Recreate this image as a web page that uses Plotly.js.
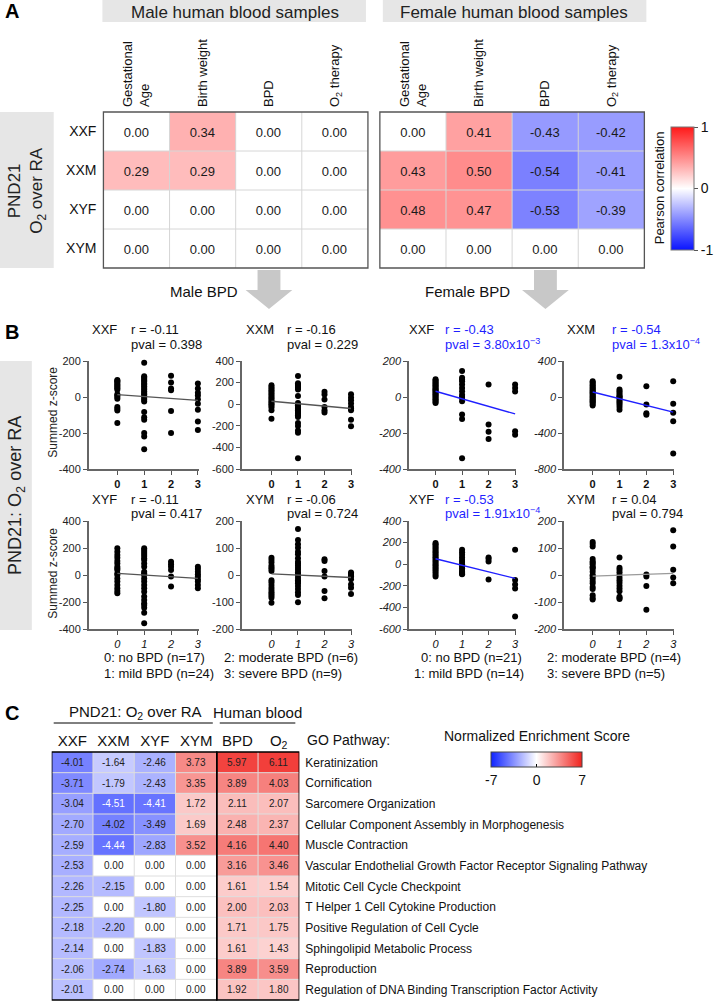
<!DOCTYPE html>
<html><head><meta charset="utf-8">
<script src="https://cdn.plot.ly/plotly-3.0.1.min.js"></script>
<style>html,body{margin:0;padding:0;background:#fff}#chart{width:715px;height:1001px}</style>
</head><body><div id="chart"></div>
<script>
// ---------------- DATA ----------------
// Panel A
const corrRows = ['XXF','XXM','XYF','XYM'];
const corrCols = ['Gestational<br>Age','Birth weight','BPD','O<sub>2</sub> therapy'];
const maleCorr = [[0.00,0.34,0.00,0.00],[0.29,0.29,0.00,0.00],[0.00,0.00,0.00,0.00],[0.00,0.00,0.00,0.00]];
const femaleCorr = [[0.00,0.41,-0.43,-0.42],[0.43,0.50,-0.54,-0.41],[0.48,0.47,-0.53,-0.39],[0.00,0.00,0.00,0.00]];
const corrTicks = [-1,0,1];

// Panel B: summed z-score per BPD grade (0,1,2,3)
const bpdLevels = [0,1,2,3];
const maleXXF = [
  [95,90,85,78,70,62,55,48,40,15,8,0,-10,-55,-65,-75,-145],
  [190,115,108,100,92,85,75,68,60,50,42,32,22,15,5,-5,-15,-25,-84,-112,-127,-200,-219,-290],
  [118,80,47,37,-78,-200],
  [75,47,24,9,-13,-37,-71,-136,-183]];
const maleXXM = [
  [175,160,145,130,115,100,85,70,55,40,25,10,0,-15,-30,-55,-135],
  [261,193,180,171,160,152,137,75,12,-9,-10,-25,-40,-56,-60,-72,-87,-103,-118,-174,-202,-243,-264,-500],
  [115,90,44,-25,-56,-78],
  [93,62,37,6,-25,-40,-56,-143,-205]];
const femaleXXF = [
  [99,92,85,78,72,65,58,52,45,40,35,28,22,15,8,2,-5,-12,-20,-28,-34],
  [144,107,97,88,69,50,32,13,0,-6,-24,-97,-122,-340],
  [69,-153,-193,-234],
  [69,50,30,-190,-210]];
const femaleXXM = [
  [176,160,145,130,115,100,88,75,62,50,38,25,12,0,-12,-25,-38,-50,-62,-78,-94],
  [224,82,64,45,26,7,0,-11,-30,-49,-67,-86,-112,-142],
  [120,-82,-180,-198],
  [176,-75,-176,-269,-628]];
const maleXYF = [
  [198,173,148,128,104,86,62,49,37,12,0,-25,-49,-74,-99,-119,-136],
  [198,185,170,155,140,125,111,86,62,25,12,0,-25,-49,-74,-99,-124,-160,-185,-210,-222,-242,-280,-358],
  [99,79,62,37,-12,-86],
  [62,44,25,5,-12,-32,-49,-74,-99]];
const maleXYM = [
  [64,56,46,35,28,22,15,-19,-27,-37,-47,-56,-64,-70,-77,-84,-103],
  [170,130,114,101,86,77,62,49,43,35,27,19,10,5,0,-10,-19,-25,-31,-41,-52,-64,-74,-101],
  [58,52,15,-6,-59,-86],
  [9,5,0,-3,-6,-16,-35,-47,-70]];
const femaleXYF = [
  [197,185,170,155,140,125,110,95,80,65,50,35,20,5,-10,-25,-40,-55,-75,-95,-115],
  [134,110,88,62,40,20,0,-22,-38,-53,-69,-80,-88,-94],
  [62,47,25,-141],
  [134,-147,-188,-225,-484]];
const femaleXYM = [
  [122,115,106,59,50,45,40,31,28,22,12,0,-4,-12,-22,-31,-44,-52,-75,-85,-91],
  [65,27,19,10,0,-10,-19,-29,-40,-50,-60,-81,-85,-89],
  [2,-6,-41,-129],
  [166,106,19,-9,-31]];
// fitted line values at BPD 0 and BPD 3
const fitMaleXXF=[13,-19], fitMaleXXM=[28,-40], fitFemaleXXF=[32,-94], fitFemaleXXM=[56,-168];
const fitMaleXYF=[12,-25], fitMaleXYM=[4,-9], fitFemaleXYF=[50,-131], fitFemaleXYM=[-4,6];
const groupLabels = ['XXF','XXM','XXF','XXM','XYF','XYM','XYF','XYM'];
const rTexts = ['r = -0.11','r = -0.16','r = -0.43','r = -0.54','r = -0.11','r = -0.06','r = -0.53','r = 0.04'];
const pTexts = ['pval = 0.398','pval = 0.229','pval = 3.80x10<sup>−3</sup>','pval = 1.3x10<sup>−4</sup>',
                'pval = 0.417','pval = 0.724','pval = 1.91x10<sup>−4</sup>','pval = 0.794'];
const yTickSets = [[-400,-200,0,200],[-600,-400,-200,0,200,400],[-400,-200,0,200],[-800,-400,0,400],
                   [-400,-200,0,200,400],[-200,-100,0,100,200],[-600,-400,-200,0,200,400],[-200,-100,0,100,200]];

// Panel C
const goCols = ['XXF','XXM','XYF','XYM','BPD','O<sub>2</sub>'];
const goPathways = ['Keratinization','Cornification','Sarcomere Organization','Cellular Component Assembly in Morphogenesis',
  'Muscle Contraction','Vascular Endothelial Growth Factor Receptor Signaling Pathway','Mitotic Cell Cycle Checkpoint',
  'T Helper 1 Cell Cytokine Production','Positive Regulation of Cell Cycle','Sphingolipid Metabolic Process',
  'Reproduction','Regulation of DNA Binding Transcription Factor Activity'];
const nes = [
  [-4.01,-1.64,-2.46,3.73,5.97,6.11],
  [-3.71,-1.79,-2.43,3.35,3.89,4.03],
  [-3.04,-4.51,-4.41,1.72,2.11,2.07],
  [-2.70,-4.02,-3.49,1.69,2.48,2.37],
  [-2.59,-4.44,-2.83,3.52,4.16,4.40],
  [-2.53,0.00,0.00,0.00,3.16,3.46],
  [-2.26,-2.15,0.00,0.00,1.61,1.54],
  [-2.25,0.00,-1.80,0.00,2.00,2.03],
  [-2.18,-2.20,0.00,0.00,1.71,1.75],
  [-2.14,0.00,-1.83,0.00,1.61,1.43],
  [-2.06,-2.74,-1.63,0.00,3.89,3.59],
  [-2.01,0.00,0.00,0.00,1.92,1.80]];
const nesTicks = [-7,0,7];

// ---------------- LAYOUT HELPERS ----------------
const W=715, H=1001;
const FONT='Liberation Sans, Arial, Helvetica, sans-serif';
const px=x=>x/W, py=y=>1-y/H;
const dX=(a,b)=>[px(a),px(b)], dY=(t,b)=>[py(b),py(t)];
const fmt=v=>v.toFixed(2);
const corrScale=[[0,'rgb(10,20,255)'],[0.5,'rgb(255,255,255)'],[1,'rgb(255,25,25)']];
const nesScale=[[0,'rgb(15,35,255)'],[0.5,'rgb(255,255,255)'],[1,'rgb(240,35,30)']];

const traces=[], shapes=[], annotations=[];
const layout={width:W,height:H,margin:{l:0,r:0,t:0,b:0},paper_bgcolor:'#fff',plot_bgcolor:'rgba(0,0,0,0)',
  showlegend:false,font:{family:FONT,color:'#111'},shapes,annotations};

function ann(o){annotations.push(Object.assign({xref:'paper',yref:'paper',xanchor:'center',yanchor:'middle',showarrow:false,
  font:{family:FONT,size:13,color:'#111'}},o));}
function rectPx(x0,y0,x1,y1,fill){shapes.push({type:'rect',xref:'paper',yref:'paper',x0:px(x0),x1:px(x1),y0:py(y1),y1:py(y0),fillcolor:fill,line:{width:0},layer:'below'});}

// ---------------- PANEL A ----------------
const idx=[0,1,2,3];
const heatA=[{z:maleCorr,xa:'x',ya:'y',dom:[104,370]},{z:femaleCorr,xa:'x2',ya:'y2',dom:[382,648]}];
heatA.forEach((h,k)=>{
  const t={type:'heatmap',x:idx,y:idx,z:h.z,text:h.z.map(r=>r.map(fmt)),texttemplate:'%{text}',
    textfont:{family:FONT,size:13,color:'#1a1a1a'},colorscale:corrScale,zmin:-1,zmax:1,xaxis:h.xa,yaxis:h.ya,
    hoverinfo:'skip',showscale:k===1};
  if(k===1){t.colorbar={x:px(675),xanchor:'left',y:py(127),yanchor:'top',len:123,lenmode:'pixels',thickness:23,
    xpad:0,ypad:0,outlinewidth:1,outlinecolor:'#777',tickvals:corrTicks,ticktext:corrTicks.map(String),
    ticks:'outside',ticklen:4,tickcolor:'#555',tickfont:{family:FONT,size:14,color:'#111'}};}
  traces.push(t);
  const xn=k===0?'xaxis':'xaxis2', yn=k===0?'yaxis':'yaxis2';
  layout[xn]={domain:dX(h.dom[0],h.dom[1]),anchor:h.ya,range:[-0.5,3.5],side:'top',tickvals:idx,ticktext:corrCols,
    tickangle:-90,ticks:'',tickfont:{family:FONT,size:13,color:'#111'},showgrid:false,zeroline:false,ticklabelstandoff:4,fixedrange:true};
  layout[yn]={domain:dY(112,268),anchor:h.xa,range:[3.5,-0.5],tickvals:idx,ticktext:corrRows,ticks:'',
    showticklabels:k===0,tickfont:{family:FONT,size:14,color:'#111'},showgrid:false,zeroline:false,ticklabelstandoff:6,fixedrange:true};
  [0.5,1.5,2.5].forEach(v=>{
    shapes.push({type:'line',xref:h.xa,yref:h.ya+' domain',x0:v,x1:v,y0:0,y1:1,line:{color:'#d6d6d6',width:1}});
    shapes.push({type:'line',xref:h.xa+' domain',yref:h.ya,x0:0,x1:1,y0:v,y1:v,line:{color:'#d6d6d6',width:1}});
  });
  shapes.push({type:'rect',xref:h.xa+' domain',yref:h.ya+' domain',x0:0,x1:1,y0:0,y1:1,line:{color:'#555',width:1.3}});
});
rectPx(103,0,368,22,'#e6e6e6');
rectPx(385,0,650,22,'#e6e6e6');
rectPx(0,112,54,268,'#e6e6e6');
ann({x:px(236),y:py(12),text:'Male human blood samples',font:{family:FONT,size:17,color:'#222'}});
ann({x:px(517),y:py(12),text:'Female human blood samples',font:{family:FONT,size:17,color:'#222'}});
ann({x:px(27),y:py(190),text:'PND21<br>O<sub>2</sub> over RA',textangle:-90,font:{family:FONT,size:17,color:'#222'}});
ann({x:px(3),y:py(11),xanchor:'left',text:'<b>A</b>',font:{family:FONT,size:20,color:'#000'}});
ann({x:px(664),y:py(188),text:'Pearson correlation',textangle:-90,font:{family:FONT,size:13,color:'#111'}});
function arrowPath(cx){
  const pts=[[cx-11.5,270],[cx+11.5,270],[cx+11.5,290],[cx+23.5,290],[cx,309],[cx-23.5,290],[cx-11.5,290]];
  return 'M'+pts.map(p=>px(p[0])+','+py(p[1])).join(' L')+' Z';
}
[270.5,548.5].forEach(cx=>shapes.push({type:'path',xref:'paper',yref:'paper',path:arrowPath(cx),fillcolor:'#c8c8c8',line:{width:0}}));
ann({x:px(205),y:py(291),text:'Male BPD',font:{family:FONT,size:15,color:'#111'}});
ann({x:px(470),y:py(291),text:'Female BPD',font:{family:FONT,size:15,color:'#111'}});

// ---------------- PANEL B ----------------
const bData=[maleXXF,maleXXM,femaleXXF,femaleXXM,maleXYF,maleXYM,femaleXYF,femaleXYM];
const bFits=[fitMaleXXF,fitMaleXXM,fitFemaleXXF,fitFemaleXXM,fitMaleXYF,fitMaleXYM,fitFemaleXYF,fitFemaleXYM];
const colSpec=[{left:89,x0:118,x3:199,lab:105,rx:130},{left:243,x0:273,x3:353,lab:261,rx:287},
               {left:411,x0:438,x3:518,lab:424,rx:445},{left:567,x0:596,x3:677,lab:584,rx:613}];
const rowSpec=[{top:361,bottom:469,ty:330,pty:344},{top:521,bottom:629,ty:499,pty:513}];
const fitColors=['#555','#555','#1f1fff','#1f1fff','#555','#555','#1f1fff','#9a9a9a'];
const statColors=['#111','#111','#1f1fff','#1f1fff','#111','#111','#1f1fff','#111'];
bData.forEach((groups,i)=>{
  const c=colSpec[i%4], r=rowSpec[Math.floor(i/4)], n=i+3;
  const female=(i%4)>=2, bottom=i>=4;
  const xa='x'+n, ya='y'+n;
  const xs=[], ys=[];
  groups.forEach((vals,g)=>vals.forEach(v=>{xs.push(bpdLevels[g]);ys.push(v);}));
  traces.push({type:'scatter',mode:'markers',x:xs,y:ys,xaxis:xa,yaxis:ya,marker:{size:6,color:'#000'},cliponaxis:false,hoverinfo:'skip'});
  traces.push({type:'scatter',mode:'lines',x:[bpdLevels[0],bpdLevels[3]],y:bFits[i],xaxis:xa,yaxis:ya,line:{color:fitColors[i],width:1.4},hoverinfo:'skip'});
  const ppu=(c.x3-c.x0)/3, right=c.x3+1;
  const yt=yTickSets[i];
  layout['xaxis'+n]={domain:dX(c.left,right),anchor:ya,range:[-(c.x0-c.left)/ppu,3+(right-c.x3)/ppu],
    tickvals:bpdLevels,ticktext:bpdLevels.map(String),ticks:'outside',ticklen:4,tickcolor:'#555',showline:true,linecolor:'#666',linewidth:1.5,
    showgrid:false,zeroline:false,fixedrange:true,
    tickfont:{family:FONT,size:11,color:'#111',weight:bottom?'normal':'bold',style:bottom?'italic':'normal'}};
  layout['yaxis'+n]={domain:dY(r.top,r.bottom),anchor:xa,range:[yt[0],yt[yt.length-1]],tickvals:yt,ticktext:yt.map(String),
    ticks:'outside',ticklen:4,tickcolor:'#555',showline:true,linecolor:'#666',linewidth:1.5,showgrid:false,zeroline:false,fixedrange:true,
    tickfont:{family:FONT,size:11,color:'#222',style:female?'italic':'normal'}};
  ann({x:px(c.lab),y:py(r.ty),text:groupLabels[i],font:{family:FONT,size:13,color:'#111'}});
  ann({x:px(c.rx),y:py(r.ty),xanchor:'left',text:rTexts[i],font:{family:FONT,size:13,color:statColors[i]}});
  ann({x:px(c.rx),y:py(r.pty),xanchor:'left',text:pTexts[i],font:{family:FONT,size:13,color:statColors[i]}});
});
rectPx(0,361,32,630,'#e6e6e6');
ann({x:px(16),y:py(495),text:'PND21: O<sub>2</sub> over RA',textangle:-90,font:{family:FONT,size:18,color:'#222'}});
ann({x:px(3),y:py(332),xanchor:'left',text:'<b>B</b>',font:{family:FONT,size:20,color:'#000'}});
ann({x:px(53),y:py(412),text:'Summed z-score',textangle:-90,font:{family:FONT,size:12,color:'#222'}});
ann({x:px(53),y:py(573),text:'Summed z-score',textangle:-90,font:{family:FONT,size:12,color:'#222'}});
ann({x:px(103),y:py(657),xanchor:'left',text:'0: no BPD (n=17)',font:{family:FONT,size:13,color:'#111'}});
ann({x:px(103),y:py(673),xanchor:'left',text:'1: mild BPD (n=24)',font:{family:FONT,size:13,color:'#111'}});
ann({x:px(223),y:py(657),xanchor:'left',text:'2: moderate BPD (n=6)',font:{family:FONT,size:13,color:'#111'}});
ann({x:px(223),y:py(673),xanchor:'left',text:'3: severe BPD (n=9)',font:{family:FONT,size:13,color:'#111'}});
ann({x:px(474),y:py(657),text:'0: no BPD (n=21)',font:{family:FONT,size:13,color:'#111'}});
ann({x:px(472),y:py(673),text:'1: mild BPD (n=14)',font:{family:FONT,size:13,color:'#111'}});
ann({x:px(548),y:py(657),xanchor:'left',text:'2: moderate BPD (n=4)',font:{family:FONT,size:13,color:'#111'}});
ann({x:px(548),y:py(673),xanchor:'left',text:'3: severe BPD (n=5)',font:{family:FONT,size:13,color:'#111'}});

// ---------------- PANEL C ----------------
const cx=[0,1,2,3,4,5], cy=goPathways.map((_,i)=>i);
traces.push({type:'heatmap',x:cx,y:cy,z:nes,colorscale:nesScale,zmin:-7,zmax:7,xaxis:'x11',yaxis:'y11',hoverinfo:'skip',
  colorbar:{orientation:'h',x:px(494),xanchor:'left',y:py(752),yanchor:'top',len:91,lenmode:'pixels',thickness:15,xpad:0,ypad:0,
    outlinewidth:1,outlinecolor:'#444',tickvals:nesTicks,ticktext:nesTicks.map(String),ticks:'inside',ticklen:3,tickcolor:'#000',
    tickfont:{family:FONT,size:14,color:'#111'}}});
layout.xaxis11={domain:dX(52,301),anchor:'y11',range:[-0.5,5.5],side:'top',tickvals:cx,ticktext:goCols,ticks:'',
  tickfont:{family:FONT,size:15,color:'#111'},showgrid:false,zeroline:false,fixedrange:true,ticklabelstandoff:2};
layout.yaxis11={domain:dY(752,1000),anchor:'x11',range:[11.5,-0.5],side:'right',tickvals:cy,ticktext:goPathways,ticks:'',
  tickfont:{family:FONT,size:12,color:'#111'},showgrid:false,zeroline:false,fixedrange:true,ticklabelstandoff:5};
[0.5,1.5,2.5,4.5].forEach(v=>shapes.push({type:'line',xref:'x11',yref:'y11 domain',x0:v,x1:v,y0:0,y1:1,line:{color:'#dedede',width:1}}));
cy.slice(0,-1).forEach(v=>shapes.push({type:'line',xref:'x11 domain',yref:'y11',x0:0,x1:1,y0:v+0.5,y1:v+0.5,line:{color:'#dedede',width:1}}));
shapes.push({type:'rect',xref:'x11',yref:'y11 domain',x0:-0.5,x1:3.5,y0:0,y1:1,line:{color:'#000',width:1.5}});
shapes.push({type:'rect',xref:'x11',yref:'y11 domain',x0:3.5,x1:5.5,y0:0,y1:1,line:{color:'#000',width:1.5}});
nes.forEach((row,i)=>row.forEach((v,j)=>{
  annotations.push({xref:'x11',yref:'y11',x:cx[j],y:cy[i],xanchor:'center',yanchor:'middle',text:fmt(v),showarrow:false,
    font:{family:FONT,size:10,color:v<-4.3?'#fff':'#222'}});
}));
shapes.push({type:'line',xref:'paper',yref:'paper',x0:px(54),x1:px(214),y0:py(723),y1:py(723),line:{color:'#000',width:1}});
shapes.push({type:'line',xref:'paper',yref:'paper',x0:px(221),x1:px(297),y0:py(723),y1:py(723),line:{color:'#000',width:1}});
ann({x:px(136),y:py(712),text:'PND21: O<sub>2</sub> over RA',font:{family:FONT,size:15,color:'#111'}});
ann({x:px(259),y:py(712),text:'Human blood',font:{family:FONT,size:15,color:'#111'}});
ann({x:px(307),y:py(740),xanchor:'left',text:'GO Pathway:',font:{family:FONT,size:14,color:'#111'}});
ann({x:px(540),y:py(736),text:'Normalized Enrichment Score',font:{family:FONT,size:14,color:'#111'}});
ann({x:px(3),y:py(713),xanchor:'left',text:'<b>C</b>',font:{family:FONT,size:20,color:'#000'}});

Plotly.newPlot('chart',traces,layout,{staticPlot:true,displayModeBar:false});
</script></body></html>
